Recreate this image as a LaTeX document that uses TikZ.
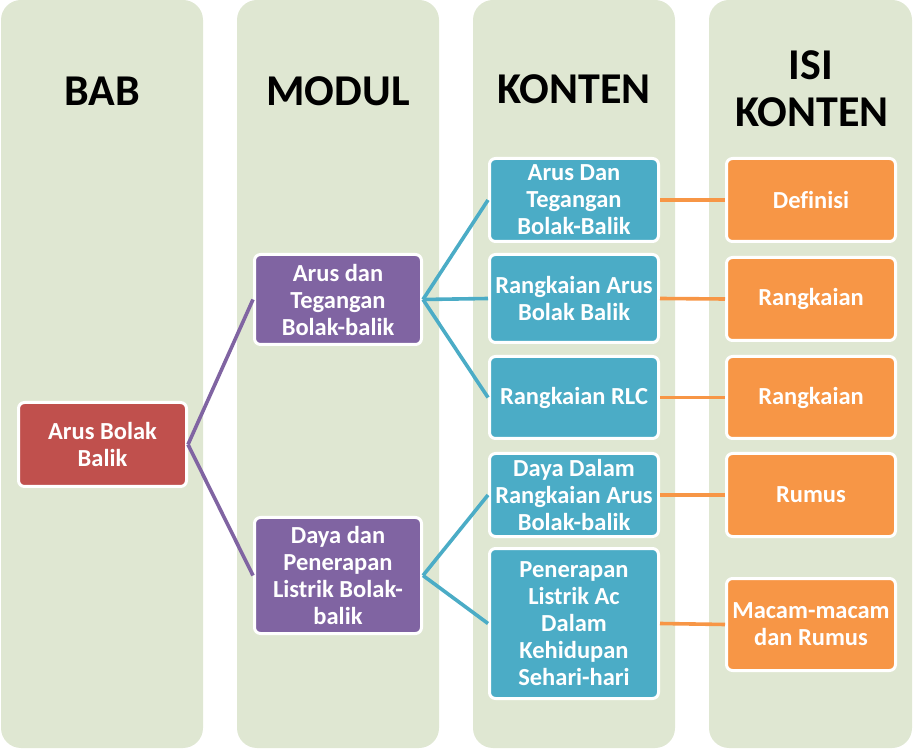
\documentclass[tikz,border=0pt]{standalone}
\usepackage{fontspec}
\setmainfont{Carlito}[Ligatures=NoCommon]
\definecolor{colbg}{HTML}{DFE7D2}
\definecolor{cred}{HTML}{C0504D}
\definecolor{cpurple}{HTML}{8064A2}
\definecolor{cteal}{HTML}{4BACC6}
\definecolor{corange}{HTML}{F79646}
\begin{document}
\begin{tikzpicture}[x=1pt,y=-1pt,
  column/.style={fill=colbg, rounded corners=20pt},
  header/.style={anchor=base, font=\fontsize{44}{47}\selectfont\bfseries, text=black, align=center, inner sep=0pt},
  box/.style={draw=white, line width=3pt, rounded corners=6pt, text=white,
    font=\fontsize{24.5}{27}\selectfont\bfseries, align=center, inner sep=1pt},
  redbox/.style={box, fill=cred, minimum width=168pt},
  purplebox/.style={box, fill=cpurple, minimum width=167pt},
  tealbox/.style={box, fill=cteal, minimum width=169pt},
  orangebox/.style={box, fill=corange, minimum width=169pt},
  plink/.style={draw=cpurple, line width=3.6pt},
  tlink/.style={draw=cteal, line width=3.6pt},
  olink/.style={draw=corange, line width=3.6pt}
]
\useasboundingbox (0,0) rectangle (914,751);
% columns
\fill[column] (1,0) rectangle (203,748);
\fill[column] (237,0) rectangle (439,748);
\fill[column] (473,0) rectangle (675,748);
\fill[column] (709,0) rectangle (912,748);
% headers
\node[header] (h1) at (102,106) {BAB};
\node[header] (h2) at (338,106) {MODUL};
\node[header] (h3) at (574,104) {KONTEN};
\node[header, anchor=base] (h4a) at (811,80) {ISI};
\node[header, anchor=base] (h4b) at (812,127) {KONTEN};
% boxes
\node[redbox, minimum height=84pt] (r) at (102.5,444.5) {Arus Bolak\\Balik};
\node[purplebox, minimum height=90pt] (p1) at (338,299.5) {Arus dan\\Tegangan\\Bolak-balik};
\node[purplebox, minimum height=116pt] (p2) at (338,575.5) {Daya dan\\Penerapan\\Listrik Bolak-\\balik};
\node[tealbox, minimum height=83pt] (t1) at (574,200) {Arus Dan\\Tegangan\\Bolak-Balik};
\node[tealbox, minimum height=88pt] (t2) at (574,298.5) {Rangkaian Arus\\Bolak Balik};
\node[tealbox, minimum height=82pt] (t3) at (574,397.5) {Rangkaian RLC};
\node[tealbox, minimum height=83pt] (t4) at (574,495) {Daya Dalam\\Rangkaian Arus\\Bolak-balik};
\node[tealbox, minimum height=150pt] (t5) at (574,623.5) {Penerapan\\Listrik Ac\\Dalam\\Kehidupan\\Sehari-hari};
\node[orangebox, minimum height=83pt] (o1) at (811,200) {Definisi};
\node[orangebox, minimum height=83pt] (o2) at (811,299) {Rangkaian};
\node[orangebox, minimum height=82pt] (o3) at (811,397.5) {Rangkaian};
\node[orangebox, minimum height=83pt] (o4) at (811,495) {Rumus};
\node[orangebox, minimum height=92pt] (o5) at (811,624.5) {Macam-macam\\dan Rumus};
% connectors
\draw[plink] (r.east) -- (p1.west);
\draw[plink] (r.east) -- (p2.west);
\draw[tlink] (p1.east) -- (t1.west);
\draw[tlink] (p1.east) -- (t2.west);
\draw[tlink] (p1.east) -- (t3.west);
\draw[tlink] (p2.east) -- (t4.west);
\draw[tlink] (p2.east) -- (t5.west);
\draw[olink] (t1.east) -- (o1.west);
\draw[olink] (t2.east) -- (o2.west);
\draw[olink] (t3.east) -- (o3.west);
\draw[olink] (t4.east) -- (o4.west);
\draw[olink] (t5.east) -- (o5.west);
\end{tikzpicture}
\end{document}
